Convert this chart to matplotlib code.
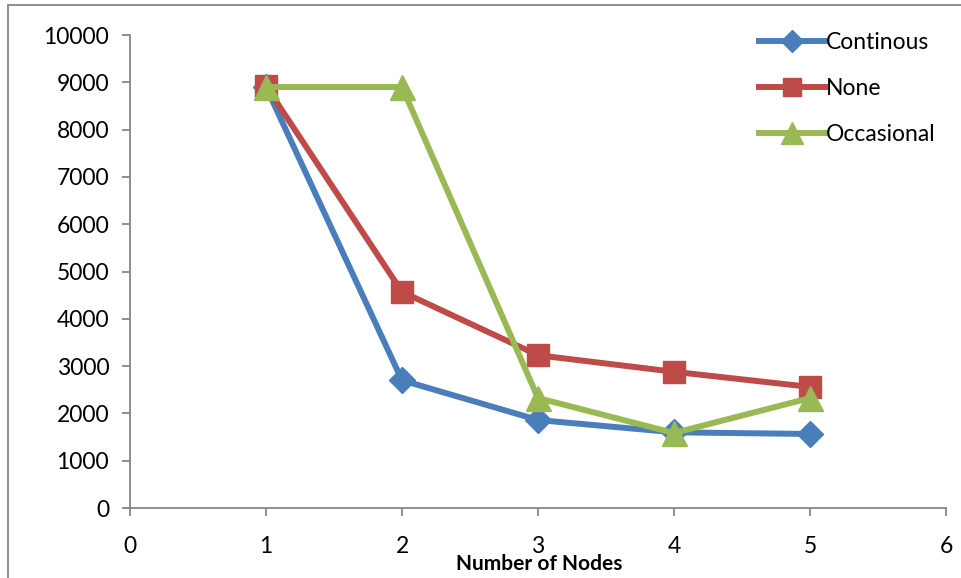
import matplotlib.pyplot as plt
from matplotlib.lines import Line2D

plt.rcParams['font.family'] = ['Lato', 'DejaVu Sans']

# Nodes vs. time for the three checkpoint modes
nodes = [1, 2, 3, 4, 5]
continous = [8900, 2700, 1860, 1600, 1565]
none = [8920, 4570, 3230, 2880, 2560]
occasional = [8900, 8900, 2325, 1585, 2325]

c_blue = '#4A7EBB'
c_red = '#BE4B48'
c_green = '#98B954'
c_axis = '#868686'

fig = plt.figure(figsize=(9.61, 5.78), dpi=100)
ax = fig.add_axes([0.1353, 0.1211, 0.8491, 0.8183])

ax.plot(nodes, continous, color=c_blue, lw=4.3, marker='D', ms=13, label='Continous')
ax.plot(nodes, none, color=c_red, lw=4.3, marker='s', ms=16, label='None')
ax.plot(nodes, occasional, color=c_green, lw=4.3, marker='^', ms=18, label='Occasional')

ax.set_xlim(0, 6)
ax.set_ylim(0, 10000)
ax.set_xticks(range(0, 7))
ax.set_yticks(range(0, 10001, 1000))

for side in ['top', 'right']:
    ax.spines[side].set_visible(False)
for side in ['left', 'bottom']:
    ax.spines[side].set_color(c_axis)
    ax.spines[side].set_linewidth(1.3)
ax.tick_params(axis='both', colors=c_axis, width=1.3, length=6, labelcolor='black', labelsize=16.5)
ax.tick_params(axis='x', pad=14)
ax.tick_params(axis='y', pad=9)

ax.set_xlabel('Number of Nodes', fontsize=15, fontweight='bold')
ax.xaxis.set_label_coords(0.502, -0.097)

leg = ax.legend(loc='upper left', bbox_to_anchor=(0.745, 1.05), frameon=False,
                fontsize=16.5, handlelength=2.9, handletextpad=0.05, labelspacing=1.1,
                markerscale=0.85)

# outer frame lines
fig.add_artist(Line2D([8 / 961, 8 / 961], [0, 1 - 5 / 578], transform=fig.transFigure,
                      color=c_axis, lw=1.3))
fig.add_artist(Line2D([8 / 961, 1], [1 - 5 / 578, 1 - 5 / 578], transform=fig.transFigure,
                      color=c_axis, lw=1.3))

fig.savefig('out.png', dpi=100)
